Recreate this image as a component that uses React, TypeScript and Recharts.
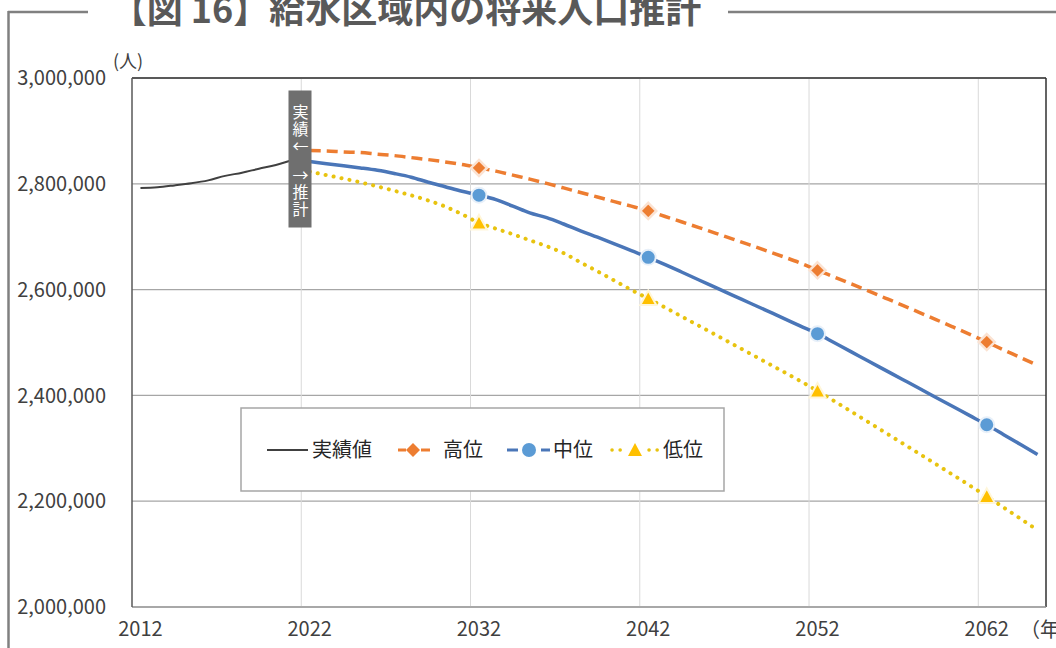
import React from 'react';
import {
  LineChart,
  Line,
  XAxis,
  YAxis,
  CartesianGrid,
  ReferenceLine
} from 'recharts';

// 年 (カテゴリ) 2012〜2065
const years = Array.from({ length: 54 }, (_, i) => 2012 + i);

// 実績値 2012〜2022
const actual = [2792000, 2793500, 2797000, 2801000, 2806500, 2815000, 2821000, 2828500, 2835500, 2845000, 2852000];

// 推計 2022〜2065
const high = [
  2862800, 2862000, 2860300, 2859000, 2856000, 2853300, 2849500, 2845700, 2841400, 2836300, 2830000,
  2824000, 2816400, 2808800, 2800700, 2792200, 2783600, 2775100, 2766200, 2757700, 2748800,
  2738200, 2727800, 2717200, 2706400, 2695400, 2684400, 2673300, 2661900, 2650200, 2636500,
  2623700, 2610600, 2597400, 2584100, 2570700, 2557000, 2543300, 2529400, 2515400, 2500900,
  2486000, 2471500, 2456700
];
const mid = [
  2842000, 2838000, 2834000, 2830000, 2825500, 2819500, 2812500, 2803000, 2794500, 2786000, 2778500,
  2770000, 2757700, 2745000, 2736000, 2724000, 2711000, 2699000, 2686500, 2673600, 2661000,
  2647200, 2632800, 2618200, 2603700, 2589200, 2574700, 2560200, 2545700, 2531000, 2516700,
  2499500, 2482300, 2465000, 2447800, 2430600, 2413400, 2396100, 2378900, 2361700, 2344500,
  2325800, 2307000, 2288200
];
const low = [
  2823000, 2816400, 2809800, 2802700, 2795000, 2786800, 2778100, 2768500, 2757000, 2742500, 2726100,
  2715100, 2704700, 2693300, 2682000, 2669000, 2651400, 2634600, 2617000, 2599400, 2583000,
  2566100, 2548700, 2531500, 2514100, 2496700, 2479300, 2461800, 2444400, 2426800, 2408400,
  2389000, 2369300, 2349600, 2329700, 2309900, 2290000, 2269900, 2249800, 2229600, 2209100,
  2187900, 2166700, 2145300
];

const xTicks = [2012, 2022, 2032, 2042, 2052, 2062];
const gridYears = [2021.5, 2031.5, 2041.5, 2051.5, 2061.5];
const yTicks = [2000000, 2200000, 2400000, 2600000, 2800000, 3000000];
const markerYears = [2032, 2042, 2052, 2062];

const PROJ_START = 10; // index of 2022

const data = years.map((year, i) => ({
  year,
  actual: i < actual.length ? actual[i] : null,
  high: i >= PROJ_START ? high[i - PROJ_START] : null,
  mid: i >= PROJ_START ? mid[i - PROJ_START] : null,
  low: i >= PROJ_START ? low[i - PROJ_START] : null
}));

const FONT = "'Noto Sans CJK JP', 'Noto Sans', sans-serif";
const ORANGE = '#ED7D31';
const BLUE_LINE = '#4A76B8';
const BLUE_MARK = '#5B9BD5';
const YELLOW_LINE = '#E8C30F';
const YELLOW_MARK = '#FFC000';

const makeDot = (shape: 'diamond' | 'circle' | 'triangle') => (props: any) => {
  const { cx, cy, payload } = props;
  const k = `${shape}-${payload?.year}`;
  if (!payload || !markerYears.includes(payload.year) || cx == null || cy == null) {
    return <g key={k} />;
  }
  if (shape === 'diamond') {
    const s = 8;
    return (
      <polygon
        key={k}
        points={`${cx},${cy - s} ${cx + s},${cy} ${cx},${cy + s} ${cx - s},${cy}`}
        fill={ORANGE}
        stroke="#FBE3D3"
        strokeWidth={2.5}
      />
    );
  }
  if (shape === 'circle') {
    return <circle key={k} cx={cx} cy={cy} r={7.5} fill={BLUE_MARK} stroke="#E8F0F9" strokeWidth={2} />;
  }
  return (
    <polygon
      key={k}
      points={`${cx},${cy - 8} ${cx + 8},${cy + 6.5} ${cx - 8},${cy + 6.5}`}
      fill={YELLOW_MARK}
      stroke="#FFF6D9"
      strokeWidth={2}
    />
  );
};

const vLabel: React.CSSProperties = {
  position: 'absolute',
  left: 288.5,
  width: 23,
  fontSize: 16,
  lineHeight: '23px',
  letterSpacing: 1,
  color: '#ffffff',
  writingMode: 'vertical-rl',
  textOrientation: 'upright',
  fontFamily: FONT,
  whiteSpace: 'nowrap'
};

const Overlay: React.FC = () => (
  <>
    <svg
      width={1056}
      height={648}
      style={{ position: 'absolute', left: 0, top: 0, pointerEvents: 'none', fontFamily: FONT }}
    >
      {/* 枠線 */}
      <line x1={8} y1={12} x2={88} y2={12} stroke="#808080" strokeWidth={2.5} />
      <line x1={728} y1={12} x2={1056} y2={12} stroke="#808080" strokeWidth={2.5} />
      <line x1={8.5} y1={11} x2={8.5} y2={648} stroke="#808080" strokeWidth={2.5} />

      <text x={406} y={23} textAnchor="middle" fontSize={36} fontWeight="bold" fill="#595959">
        【図 16】給水区域内の将来人口推計
      </text>

      <text x={113} y={68} fontSize={18} fill="#404040">(人)</text>
      <text x={1020} y={637} fontSize={20} fill="#404040">（年）</text>

      {/* 実績 / 推計 の区切り */}
      <rect x={288.5} y={90.5} width={23} height={137} fill="#6F6F6F" />

      {/* 凡例 */}
      <rect x={241} y={408} width={483} height={83} fill="#ffffff" stroke="#A6A6A6" strokeWidth={1.5} />
      <g fontSize={20} fill="#262626">
        <line x1={267} y1={450} x2={308} y2={450} stroke="#404040" strokeWidth={2} />
        <text x={312} y={457}>実績値</text>

        <line x1={398} y1={450} x2={406} y2={450} stroke={ORANGE} strokeWidth={3} />
        <line x1={421} y1={450} x2={430} y2={450} stroke={ORANGE} strokeWidth={3} />
        <polygon points="413,443 420,450 413,457 406,450" fill={ORANGE} />
        <text x={443} y={457}>高位</text>

        <line x1={507} y1={450} x2={518} y2={450} stroke={BLUE_LINE} strokeWidth={3} />
        <line x1={541} y1={450} x2={550} y2={450} stroke={BLUE_LINE} strokeWidth={3} />
        <circle cx={529} cy={450} r={7} fill={BLUE_MARK} />
        <text x={553} y={457}>中位</text>

        <line x1={612} y1={450} x2={622} y2={450} stroke={YELLOW_LINE} strokeWidth={3.5} strokeLinecap="round" strokeDasharray="0.1 8" />
        <line x1={649} y1={450} x2={659} y2={450} stroke={YELLOW_LINE} strokeWidth={3.5} strokeLinecap="round" strokeDasharray="0.1 8" />
        <polygon points="635,443 642,456 628,456" fill={YELLOW_MARK} />
        <text x={663} y={457}>低位</text>
      </g>
    </svg>
    <div style={{ ...vLabel, top: 104 }}>実績←</div>
    <div style={{ ...vLabel, top: 167 }}>→推計</div>
  </>
);

const App: React.FC = () => {
  return (
    <div style={{ position: 'absolute', left: 0, top: 0, width: 1056, height: 648, background: '#ffffff', fontFamily: FONT }}>
      <LineChart
        width={1056}
        height={648}
        data={data}
        margin={{ top: 78, right: 10, bottom: 11, left: 0 }}
      >
        <CartesianGrid vertical={false} stroke="#A6A6A6" strokeWidth={1.2} />
        <XAxis
          dataKey="year"
          type="number"
          domain={[2011.5, 2065.5]}
          ticks={xTicks}
          tickLine={false}
          tickSize={0}
          tickMargin={15}
          height={30}
          axisLine={{ stroke: '#9A9A9A', strokeWidth: 1.5 }}
          tick={{ fill: '#404040', fontSize: 20, fontFamily: FONT }}
          allowDataOverflow
        />
        <YAxis
          domain={[2000000, 3000000]}
          ticks={yTicks}
          width={132}
          tickLine={false}
          tickSize={0}
          tickMargin={26}
          axisLine={{ stroke: '#595959', strokeWidth: 1.5 }}
          tick={{ fill: '#404040', fontSize: 20, fontFamily: FONT }}
          tickFormatter={(v: number) => v.toLocaleString('en-US')}
          allowDataOverflow
        />
        {gridYears.map((g) => (
          <ReferenceLine key={g} x={g} stroke="#D9D9D9" strokeWidth={1} />
        ))}
        <ReferenceLine y={3000000} stroke="#303030" strokeWidth={1.5} />
        <ReferenceLine x={2065.5} stroke="#303030" strokeWidth={1.5} />
        <Line
          type="monotone"
          dataKey="actual"
          stroke="#404040"
          strokeWidth={2}
          dot={false}
          isAnimationActive={false}
        />
        <Line
          type="monotone"
          dataKey="high"
          stroke={ORANGE}
          strokeWidth={3.5}
          strokeDasharray="11 6"
          dot={makeDot('diamond')}
          activeDot={false}
          isAnimationActive={false}
        />
        <Line
          type="monotone"
          dataKey="mid"
          stroke={BLUE_LINE}
          strokeWidth={3.5}
          dot={makeDot('circle')}
          activeDot={false}
          isAnimationActive={false}
        />
        <Line
          type="monotone"
          dataKey="low"
          stroke={YELLOW_LINE}
          strokeWidth={4}
          strokeLinecap="round"
          strokeDasharray="0.1 8"
          dot={makeDot('triangle')}
          activeDot={false}
          isAnimationActive={false}
        />
      </LineChart>
      <Overlay />
    </div>
  );
};

export default App;
